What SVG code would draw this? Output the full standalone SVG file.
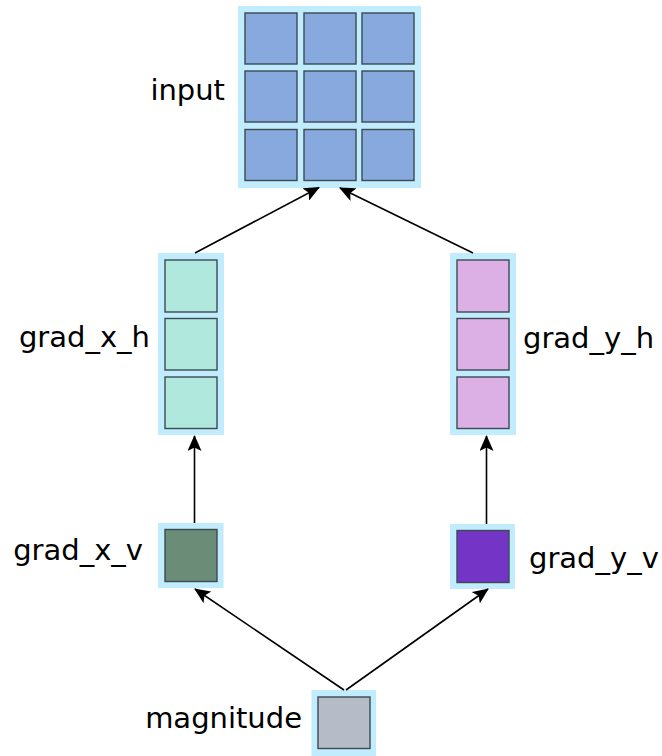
<svg xmlns="http://www.w3.org/2000/svg" width="662" height="756" viewBox="0 0 662 756">
  <style>
    .bg { fill: #c0ecfd; }
    .cell { stroke: #3c4a52; stroke-width: 1.4; }
    .in { fill: #87a9dd; }
    .gxh { fill: #b0e8de; }
    .gyh { fill: #dcb0e4; }
    .gxv { fill: #6b8d78; }
    .gyv { fill: #7434c6; }
    .mag { fill: #b6bcc7; }
    .lbl { font-family: "DejaVu Sans", sans-serif; font-size: 29px; fill: #000; }
    .edge { stroke: #000; stroke-width: 1.6; fill: none; marker-end: url(#arrow); }
  </style>
  <defs>
    <marker id="arrow" markerWidth="16" markerHeight="14" refX="15" refY="7" orient="auto" markerUnits="userSpaceOnUse">
      <path d="M0,0 L16,7 L0,14 L3.5,7 Z" fill="#000"/>
    </marker>
  </defs>
  <rect width="662" height="756" fill="#ffffff"/>

  <g id="input">
    <rect class="bg" x="238" y="6" width="183" height="182"/>
    <rect class="cell in" x="245" y="13" width="52" height="51"/>
    <rect class="cell in" x="304" y="13" width="52" height="51"/>
    <rect class="cell in" x="362" y="13" width="52" height="51"/>
    <rect class="cell in" x="245" y="71" width="52" height="51"/>
    <rect class="cell in" x="304" y="71" width="52" height="51"/>
    <rect class="cell in" x="362" y="71" width="52" height="51"/>
    <rect class="cell in" x="245" y="129.5" width="52" height="51"/>
    <rect class="cell in" x="304" y="129.5" width="52" height="51"/>
    <rect class="cell in" x="362" y="129.5" width="52" height="51"/>
    <text class="lbl" x="225" y="100" text-anchor="end">input</text>
  </g>

  <g id="grad_x_h">
    <rect class="bg" x="158" y="253" width="66" height="182"/>
    <rect class="cell gxh" x="165" y="260" width="52" height="52"/>
    <rect class="cell gxh" x="165" y="318.5" width="52" height="51.5"/>
    <rect class="cell gxh" x="165" y="377" width="52" height="51.5"/>
    <text class="lbl" x="150" y="347" text-anchor="end">grad_x_h</text>
  </g>

  <g id="grad_y_h">
    <rect class="bg" x="450" y="253" width="66" height="182"/>
    <rect class="cell gyh" x="457" y="260" width="52" height="52"/>
    <rect class="cell gyh" x="457" y="318.5" width="52" height="51.5"/>
    <rect class="cell gyh" x="457" y="377" width="52" height="51.5"/>
    <text class="lbl" x="523" y="348" text-anchor="start">grad_y_h</text>
  </g>

  <g id="grad_x_v">
    <rect class="bg" x="158" y="523" width="65.5" height="65"/>
    <rect class="cell gxv" x="165" y="529.5" width="52" height="52"/>
    <text class="lbl" x="143" y="560" text-anchor="end">grad_x_v</text>
  </g>

  <g id="grad_y_v">
    <rect class="bg" x="450" y="524" width="65" height="65"/>
    <rect class="cell gyv" x="457" y="530.5" width="52" height="52"/>
    <text class="lbl" x="529" y="568" text-anchor="start">grad_y_v</text>
  </g>

  <g id="magnitude">
    <rect class="bg" x="311.5" y="690" width="64.5" height="66"/>
    <rect class="cell mag" x="318" y="697" width="52" height="51.5"/>
    <text class="lbl" x="302" y="728" text-anchor="end">magnitude</text>
  </g>

  <g id="connectors">
    <line class="edge" x1="195" y1="253" x2="319" y2="187.5"/>
    <line class="edge" x1="473" y1="253" x2="340" y2="188"/>
    <line class="edge" x1="194.5" y1="523" x2="194.5" y2="436"/>
    <line class="edge" x1="486.5" y1="524" x2="486.5" y2="436"/>
    <line class="edge" x1="344" y1="690" x2="195" y2="589"/>
    <line class="edge" x1="346" y1="690" x2="488" y2="589"/>
  </g>
</svg>
